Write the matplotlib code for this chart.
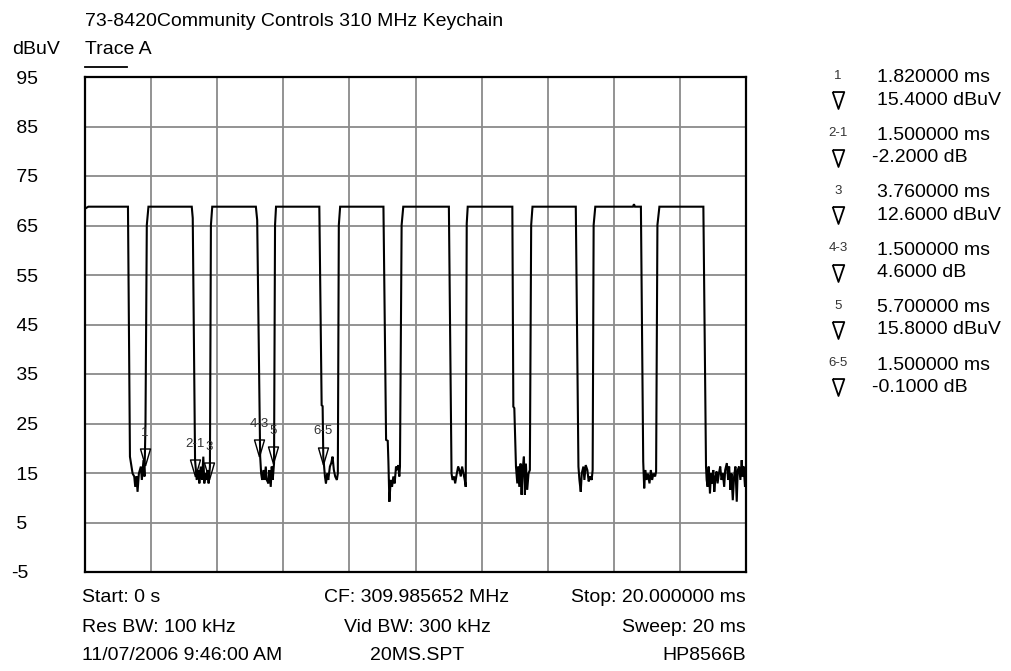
import matplotlib
matplotlib.use("Agg")
import matplotlib.pyplot as plt
from matplotlib.lines import Line2D

plt.rcParams['font.family'] = ['Liberation Sans', 'DejaVu Sans']

# header / footer text
title = "73-8420Community Controls 310 MHz Keychain"
trace_name = "Trace A"
y_unit = "dBuV"
footer_left = ["Start: 0 s", "Res BW: 100 kHz", "11/07/2006 9:46:00 AM"]
footer_mid = ["CF: 309.985652 MHz", "Vid BW: 300 kHz", "20MS.SPT"]
footer_right = ["Stop: 20.000000 ms", "Sweep: 20 ms", "HP8566B"]

# axis
y_ticks = [95, 85, 75, 65, 55, 45, 35, 25, 15, 5, -5]
x_grid_ms = [0, 2, 4, 6, 8, 10, 12, 14, 16, 18, 20]

# trace (time in ms, level in dBuV)
trace_ms = [
    0.0, 0.1, 1.30, 1.36,
    1.44, 1.49, 1.52, 1.56, 1.59, 1.63, 1.69, 1.72, 1.77, 1.80, 1.83, 1.87, 1.92,
    3.23, 3.26, 3.33,
    3.38, 3.43, 3.46, 3.50, 3.54, 3.58, 3.61, 3.64, 3.68, 3.71, 3.74, 3.78, 3.81, 3.85,
    5.17, 5.21, 5.30,
    5.33, 5.36, 5.40, 5.43, 5.47, 5.50, 5.55, 5.58, 5.62, 5.65, 5.68, 5.72, 5.75, 5.78,
    7.09, 7.16, 7.19, 7.21,
    7.26, 7.29, 7.33, 7.36, 7.41, 7.45, 7.49, 7.53, 7.57, 7.62, 7.65, 7.68, 7.72,
    9.03, 9.11, 9.16, 9.18,
    9.21, 9.25, 9.29, 9.33, 9.37, 9.41, 9.45, 9.48, 9.51, 9.53, 9.58, 9.63,
    11.01, 11.09,
    11.12, 11.17, 11.20, 11.25, 11.29, 11.33, 11.37, 11.41, 11.45, 11.49, 11.52, 11.55, 11.58,
    12.93, 12.96, 12.99, 13.04,
    13.08, 13.11, 13.14, 13.18, 13.21, 13.24, 13.28, 13.31, 13.34, 13.38, 13.42, 13.46, 13.50, 13.54,
    14.85, 14.93,
    14.96, 15.00, 15.03, 15.08, 15.11, 15.15, 15.20, 15.24, 15.28, 15.33, 15.36, 15.39, 15.44,
    16.58, 16.61, 16.64, 16.82, 16.89,
    16.92, 16.95, 16.99, 17.03, 17.08, 17.12, 17.16, 17.20, 17.25, 17.28, 17.32, 17.38,
    18.71, 18.79,
    18.81, 18.84, 18.87, 18.91, 18.94, 18.97, 19.01, 19.04, 19.08, 19.11, 19.14, 19.18, 19.22,
    19.26, 19.30, 19.34, 19.37, 19.42, 19.46, 19.49, 19.53, 19.56, 19.60, 19.64, 19.68, 19.72,
    19.75, 19.79, 19.83, 19.87, 19.90, 19.93, 19.97, 20.0,
]
trace_dbuv = [
    68.4, 68.8, 68.8, 18.3,
    14.9, 14.3, 12.2, 14.3, 11.2, 14.9, 16.3, 13.6, 17.6, 14.3, 25.0, 65.1, 68.8,
    68.8, 66.5, 17.6,
    13.6, 15.6, 12.9, 16.3, 13.6, 18.3, 12.9, 14.9, 13.6, 15.6, 12.9, 16.3, 65.1, 68.8,
    68.8, 66.1, 18.3,
    14.9, 13.6, 15.6, 13.6, 16.3, 13.6, 12.9, 15.6, 12.2, 16.3, 13.6, 17.0, 65.1, 68.8,
    68.8, 28.7, 28.5, 18.3,
    14.3, 12.9, 14.9, 13.6, 16.3, 17.0, 18.3, 15.6, 14.3, 13.6, 14.9, 65.1, 68.8,
    68.8, 21.7, 21.5, 17.3,
    9.2, 13.6, 12.2, 14.3, 12.9, 16.3, 15.6, 16.6, 14.3, 16.3, 65.1, 68.8,
    68.8, 14.9,
    13.6, 14.3, 12.9, 14.9, 16.3, 15.6, 14.3, 16.3, 14.9, 13.6, 12.2, 65.4, 68.8,
    68.8, 28.4, 28.1, 16.3,
    12.9, 16.3, 12.2, 16.9, 10.6, 15.6, 18.3, 10.6, 16.9, 11.6, 14.9, 15.6, 65.1, 68.8,
    68.8, 16.3,
    13.6, 11.2, 14.9, 16.3, 13.6, 16.6, 15.6, 13.3, 14.3, 13.6, 15.6, 65.1, 68.8,
    68.8, 69.3, 68.8, 68.8, 17.3,
    11.9, 15.6, 13.6, 14.9, 12.9, 15.6, 13.6, 14.9, 14.3, 15.3, 65.1, 68.8,
    68.8, 16.3,
    13.6, 12.2, 16.3, 10.9, 14.9, 12.9, 15.6, 11.2, 14.3, 15.3, 12.9, 14.9, 16.3,
    13.6, 14.9, 12.2, 15.6, 17.0, 13.6, 16.3, 11.6, 14.9, 9.5, 14.3, 16.3, 9.2,
    15.6, 16.3, 13.6, 17.6, 14.3, 16.3, 12.2, 14.9,
]

# markers
marker_labels = ["1", "2-1", "3", "4-3", "5", "6-5"]
marker_ms = [1.82, 3.32, 3.76, 5.26, 5.70, 7.20]
marker_dbuv = [15.4, 13.2, 12.6, 17.2, 15.8, 15.7]
readout_time = ["1.820000 ms", "1.500000 ms", "3.760000 ms",
                "1.500000 ms", "5.700000 ms", "1.500000 ms"]
readout_value = ["15.4000 dBuV", "-2.2000 dB", "12.6000 dBuV",
                 "4.6000 dB", "15.8000 dBuV", "-0.1000 dB"]

W, H = 1011, 671
fig = plt.figure(figsize=(W / 100, H / 100), dpi=100)


def fx(px):
    return px / W


def fy(py):
    return 1 - py / H


# plot box: left 85, right 746, top 77, bottom 572 (pixels)
ax = fig.add_axes([fx(85), fy(572), fx(746) - fx(85), fy(77) - fy(572)])
ax.set_xlim(0, 20)
ax.set_ylim(-5, 95)

ax.set_xticks(x_grid_ms)
ax.set_xticklabels([])
ax.set_yticks(y_ticks)
ax.set_yticklabels([("" if v < 0 else " ") + str(v) for v in y_ticks],
                   ha="left", fontsize=14)
ax.tick_params(axis="both", length=0)
ax.tick_params(axis="y", pad=53)
ax.grid(True, color="#8a8a8a", linewidth=1.3)
ax.set_axisbelow(True)
for sp in ax.spines.values():
    sp.set_linewidth(1.6)
    sp.set_color("black")

ax.plot(trace_ms, trace_dbuv, color="black", linewidth=1.5, zorder=3,
        solid_joinstyle="miter")

# in-plot delta markers, tip a little above the marker level
tri_tip = [(0, 0.49), (-0.444, 2), (0.444, 2), (0, 0.49)]
ax.plot(marker_ms, marker_dbuv, linestyle="none", marker=tri_tip,
        markersize=32.4, markerfacecolor="none", markeredgecolor="black",
        markeredgewidth=1.0, zorder=4)
for lab, t, v in zip(marker_labels, marker_ms, marker_dbuv):
    ax.annotate(lab, (t, v), xytext=(0, 27.5), textcoords="offset points",
                ha="center", va="center", fontsize=9.5, color="#333333",
                zorder=5)

# header
fig.text(fx(85), fy(21), title, fontsize=14, ha="left", va="center")
fig.text(fx(85), fy(50), trace_name, fontsize=14, ha="left", va="center")
fig.text(fx(12), fy(50), y_unit, fontsize=14, ha="left", va="center")
fig.add_artist(Line2D([fx(85), fx(127)], [fy(67), fy(67)], color="black",
                      linewidth=1.3, transform=fig.transFigure))

# footer
row_y = [598, 627, 656]
for i in range(3):
    fig.text(fx(82), fy(row_y[i]), footer_left[i], fontsize=14,
             ha="left", va="center")
    fig.text(fx(417), fy(row_y[i]), footer_mid[i], fontsize=14,
             ha="center", va="center")
    fig.text(fx(746), fy(row_y[i]), footer_right[i], fontsize=14,
             ha="right", va="center")

# marker readout on the right
nabla = [(-0.685, 1), (0.685, 1), (0, -1), (-0.685, 1)]
for i in range(len(marker_labels)):
    y_t = 78 + 57.4 * i
    y_v = y_t + 22.3
    fig.text(fx(838), fy(y_t - 2), marker_labels[i], fontsize=9.5,
             color="#333333", ha="center", va="center")
    fig.text(fx(877), fy(y_t), readout_time[i], fontsize=14,
             ha="left", va="center")
    x_v = 872 if readout_value[i].startswith("-") else 877
    fig.text(fx(x_v), fy(y_v), readout_value[i], fontsize=14,
             ha="left", va="center")
    fig.add_artist(Line2D([fx(838)], [fy(y_v)], marker=nabla, markersize=12.2,
                          markerfacecolor="none", markeredgecolor="black",
                          markeredgewidth=1.3, linestyle="none",
                          transform=fig.transFigure))

fig.savefig("out.png", dpi=100)
